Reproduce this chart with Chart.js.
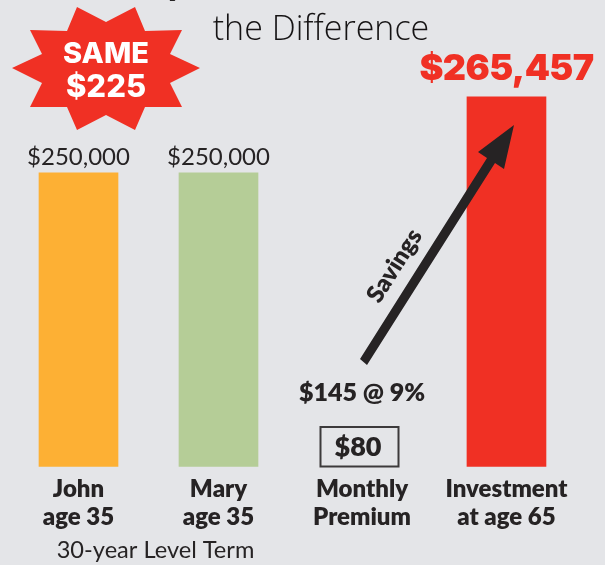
<!DOCTYPE html>
<html>
<head>
<meta charset="utf-8">
<style>
html, body { margin: 0; padding: 0; background: #e4e5e8; }
#wrap { width: 605px; height: 565px; position: relative; }
canvas { display: block; }
</style>
<script src="https://cdn.jsdelivr.net/npm/chart.js@4"></script>
</head>
<body>
<div id="wrap"><canvas id="myChart" width="605" height="565"></canvas></div>
<script>
// what the picture says
var categories = [["John", "age 35"], ["Mary", "age 35"], ["Monthly", "Premium"], ["Investment", "at age 65"]];
var slots = [0, 1, 2.025, 3.057];
var barLabels = ["$250,000", "$250,000", null, "$265,457"];
// the artwork is not to scale: the red bar is much taller than its value, so these are drawn heights
var barHeights = [250, 250, null, 314.6];
var barColors = ["#fdb034", "#b5cd97", "#000000", "#f03024"];

var dark = "#262324";
var red = "#f03024";

function drawText(ctx, text, x, y, font, color, angle, spacing) {
    ctx.save();
    ctx.translate(x, y);
    if (angle) ctx.rotate(angle);
    ctx.font = font;
    ctx.fillStyle = color;
    ctx.textAlign = "center";
    ctx.textBaseline = "alphabetic";
    if (spacing) ctx.letterSpacing = spacing;
    ctx.fillText(text, 0, 0);
    ctx.restore();
}

function polygon(ctx, pts, color) {
    ctx.beginPath();
    for (var i = 0; i < pts.length; i++) {
        if (i == 0) ctx.moveTo(pts[i][0], pts[i][1]);
        else ctx.lineTo(pts[i][0], pts[i][1]);
    }
    ctx.closePath();
    ctx.fillStyle = color;
    ctx.fill();
}

var extras = {
    id: "extras",
    afterDatasetsDraw: function(chart) {
        var ctx = chart.ctx;
        var bars = chart.getDatasetMeta(0).data;

        // value labels sit on the bars
        for (var i = 0; i < bars.length; i++) {
            if (!barLabels[i] || barHeights[i] == null) continue;
            if (i == 3) drawText(ctx, barLabels[i], bars[i].x, bars[i].y - 17, "900 36px Inter", red, 0, "-0.6px");
            else drawText(ctx, barLabels[i], bars[i].x, bars[i].y - 8, "400 24px Lato", dark);
        }

        // starburst
        polygon(ctx, [[77,7],[106,22],[135,7],[145,31],[182,30],[170,54],[200,68],[170,83],[182,107],[145,107],
            [135,130],[106,115],[77,130],[67,107],[30,107],[42,83],[12,68],[42,54],[30,30],[67,31]], red);
        drawText(ctx, "SAME", 106, 63, "800 29px Inter", "#ffffff");
        drawText(ctx, "$225", 106, 97, "800 31px Inter", "#ffffff");

        // title scraps
        drawText(ctx, "y", 176, -6, "900 40px Lato", dark);
        drawText(ctx, "the Difference", 321, 40, "300 34px 'Open Sans'", "#151314");

        // arrow
        polygon(ctx, [[360,359],[367,365],[495,163],[504,169],[514,125],[478,152],[487,158]], dark);
        drawText(ctx, "Savings", 401, 270, "800 24px Lato", dark, -Math.atan2(201, 127));

        // middle column
        drawText(ctx, "$145 @ 9%", 362, 401, "800 25px Lato", dark);
        ctx.strokeStyle = "#3c3a3b";
        ctx.lineWidth = 2;
        ctx.strokeRect(320.5, 427, 78, 39.5);
        drawText(ctx, "$80", 358, 456, "800 27px Lato", dark);

        drawText(ctx, "30-year Level Term", 155.5, 558, "400 23.6px Lato", dark);
    }
};

var ctx = document.getElementById("myChart").getContext("2d");
var myChart = new Chart(ctx, {
    type: "bar",
    data: {
        datasets: [{
            data: categories.map(function(c, i) { return { x: slots[i], y: barHeights[i] }; }),
            backgroundColor: barColors,
            borderWidth: 0,
            barThickness: 79
        }]
    },
    plugins: [extras],
    options: {
        responsive: false,
        animation: false,
        layout: { padding: { bottom: 34 } },
        plugins: { legend: { display: false }, tooltip: { enabled: false } },
        scales: {
            x: {
                type: "linear",
                position: "bottom",
                offset: false,
                min: -0.5607,
                max: 3.7607,
                grid: { display: false },
                border: { display: false },
                afterBuildTicks: function(axis) {
                    axis.ticks = slots.map(function(s) { return { value: s }; });
                },
                ticks: {
                    autoSkip: false,
                    maxRotation: 0,
                    padding: 0,
                    color: dark,
                    font: { family: "Lato", weight: "800", size: 24, lineHeight: 1.17 },
                    callback: function(value) {
                        return categories[slots.indexOf(value)];
                    }
                }
            },
            y: {
                display: false,
                min: 0,
                max: 397
            }
        }
    }
});
</script>
</body>
</html>
